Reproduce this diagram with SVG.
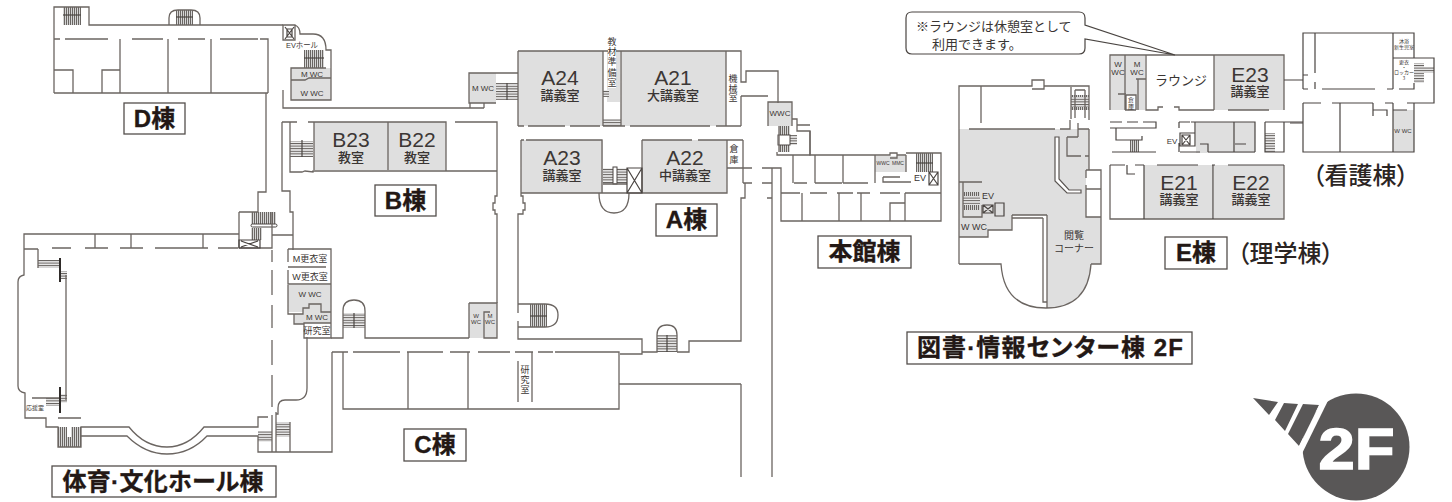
<svg xmlns="http://www.w3.org/2000/svg" width="1452" height="502" viewBox="0 0 1452 502">
<style>
.w{fill:none;stroke:#6b6561;stroke-width:1.3}
.t{fill:none;stroke:#4a4542;stroke-width:1.2}
.b{fill:none;stroke:#2f2b29;stroke-width:2}
.g{fill:#dfdfdf;stroke:none}
text{font-family:"Liberation Sans","Noto Sans CJK JP",sans-serif;fill:#3a3533;text-anchor:middle}
.rn{font-size:21px;fill:#3c3735}
.rk{font-size:13px;font-family:"Noto Sans CJK JP",sans-serif;font-weight:500}
.s9{font-size:9px}.s8{font-size:8px}.s6{font-size:6px}.s5{font-size:5px}
.j{font-family:"Noto Sans CJK JP",sans-serif}
.lb{fill:#fff;stroke:#544f4c;stroke-width:1.3}
.lt{font-family:"Liberation Sans","Noto Sans CJK JP",sans-serif;font-weight:700;fill:#231815;stroke:#231815;stroke-width:.35;font-size:24px;font-feature-settings:"palt"}
.lp{font-family:"Noto Sans CJK JP",sans-serif;font-weight:500;fill:#2b2523;font-size:24px;font-feature-settings:"palt"}
</style>
<defs>
<pattern id="sv" width="2" height="2" patternUnits="userSpaceOnUse"><rect width="2" height="2" fill="#d5d5d5"/><rect width="1" height="2" fill="#6a6663"/></pattern>
<pattern id="sh" width="2" height="2.6" patternUnits="userSpaceOnUse"><rect width="2" height="2.6" fill="#eee"/><rect width="2" height="1" fill="#5f5a57"/></pattern>
</defs>

<g id="building-d">
<rect class="g" x="291" y="68" width="40" height="32"/>
<rect x="63" y="7" width="18" height="18" fill="url(#sv)"/><path class="t" d="M63 15H81"/>
<rect x="176" y="10" width="17" height="15" fill="url(#sv)"/><path class="t" d="M176 17H193"/>
<rect x="304" y="50" width="20" height="18" fill="url(#sv)"/><path class="t" d="M304 58H324"/>
<path class="w" d="M54 93V7H89V25H169V18Q169 10 178 10H191Q200 10 200 18V25H283M89 25H283M54 93H268M54 39H60M65 39H108M132 39H163M178 39H205M220 39H258M260 39H268V93M120 39V93M168 39V93M211 39V93M54 70H73V93M102 93V70H120"/>
<path class="w" d="M295 25Q300 27 300 34H313Q326 34 326 50H331V100H291V68H326M291 80H305L309 78H331M283 90V108H470M295 25H283V40H295Z"/>
<path class="t" d="M285 27L294 39M294 27L285 39M287 29H292V37H287Z"/>
<text class="s8" x="302" y="48" textLength="32" lengthAdjust="spacingAndGlyphs">EVホール</text>
<text class="s8" x="312" y="77">M WC</text><text class="s8" x="312" y="96">W WC</text>
<path class="w" d="M266 93V192H258V212"/>
</g>

<g id="building-b">
<rect class="g" x="314" y="122" width="132" height="48"/>
<rect x="290" y="141" width="23" height="16" fill="url(#sh)"/>
<path class="t" d="M302 140V157"/>
<path class="w" d="M282 122H290M290 122H297M308 122H314V170M314 122H446V171M388 122V170M455 122H497V170M446 171H497M290 122V172H302L305 171L313 172V171H446M282 122V191H290V212H293V250M497 170V196H495V203H493V210H495V214H497V303"/>
<text class="rn" x="351" y="147">B23</text><text class="rk" x="351" y="162">教室</text>
<text class="rn" x="417" y="147">B22</text><text class="rk" x="417" y="162">教室</text>
</g>

<g id="building-a">
<rect class="g" x="469" y="73" width="27" height="30"/>
<rect class="g" x="518" y="51" width="85" height="75"/><rect class="g" x="621" y="51" width="105" height="75"/><rect class="g" x="607" y="51" width="13" height="51"/>
<rect class="g" x="521" y="140" width="82" height="53"/><rect class="g" x="642" y="140" width="85" height="53"/>
<rect class="g" x="768" y="102" width="24" height="24"/>
<rect x="496" y="83" width="22" height="17" fill="url(#sh)"/><path class="t" d="M507 83V100"/>
<rect x="603" y="90" width="6" height="7" fill="url(#sh)"/><rect x="603" y="119" width="18" height="7" fill="url(#sh)"/>
<rect x="603" y="168" width="24" height="16" fill="url(#sh)"/>
<rect x="613" y="167" width="4" height="17" fill="#fff" stroke="#4a4542"/>
<rect x="779" y="126" width="11" height="26" fill="url(#sv)"/><rect x="790" y="135" width="7" height="10" fill="url(#sh)"/>
<rect x="778" y="135" width="12" height="10" fill="#fff" stroke="#4a4542"/>
<path class="w" d="M496 103H469V73H518M470 108V103M484 108V103M470 108H484M518 51V126M518 126H524M528 126H565M570 126H600M603 51V126M621 51V126M726 51V126M603 126H621M621 126H625M630 126H710M716 126H741M518 51H741V82H746V71H778V103M741 96H768M741 96V126M768 126V102H792V126M792 119H797V131H810V155H777V152M779 126V152"/>
<path class="w" d="M521 140H524M526 140H602V193M521 140V196H523V203H525V210H523V214H518V304M642 140H692M698 140H727V193H521M642 140V193M727 168H752M762 168H781V193M743 140H727M743 140V183M743 183H752M762 183H772M772 168V198H767M772 198V477M745 183V198H741V341H689V352H677M741 384V477M599 193Q599 213 614 213Q629 213 629 193M603 184H627"/>
<path class="t" d="M627 168H642V193H627ZM627 168L642 193M642 168L627 193"/>
<text class="rn" x="560" y="85">A24</text><text class="rk" x="560" y="100">講義室</text>
<text class="rn" x="673" y="85">A21</text><text class="rk" x="673" y="100">大講義室</text>
<text class="rn" x="562" y="165">A23</text><text class="rk" x="562" y="180">講義室</text>
<text class="rn" x="685" y="165">A22</text><text class="rk" x="685" y="180">中講義室</text>
<rect x="608" y="38" width="8" height="50" fill="#fff"/>
<text class="s9 j"><tspan x="612" y="45">教</tspan><tspan x="612" y="55">材</tspan><tspan x="612" y="65">準</tspan><tspan x="612" y="76">備</tspan><tspan x="612" y="86">室</tspan></text>
<text class="s9 j"><tspan x="733" y="82">機</tspan><tspan x="733" y="92">械</tspan><tspan x="733" y="101">室</tspan></text>
<text class="s9 j"><tspan x="734" y="152">倉</tspan><tspan x="734" y="163">庫</tspan></text>
<text class="s8" x="483" y="91">M WC</text><text class="s8" x="780" y="116">WWC</text>
</g>

<g id="building-main">
<rect class="g" x="875" y="156" width="31" height="16"/>
<rect x="916" y="153" width="17" height="19" fill="url(#sv)"/><path class="t" d="M916 163H933"/>
<path class="w" d="M810 125H797M810 131V155H875M875 155H890V153H897V158H890M897 155H906M906 153H941V221H781V193M793 155V183M815 155V183M843 155V183M875 155V172M794 183H807M815 183H842M843 183H868M875 172V183M906 155V172M883 177V182H911M883 177H900M781 193H800M810 193H827M837 193H853M857 193H870M880 193H900M905 193H941M802 193V221M839 193V221M861 193V221M890 221V203H905M905 193V221"/>
<path class="t" d="M929 172H938V185H929ZM929 172L938 185M938 172L929 185"/>
<text class="s5" x="883" y="165">WWC</text><text class="s5" x="898" y="165">MMC</text>
<text class="s9" x="920" y="181">EV</text>
</g>

<g id="building-c">
<rect x="343" y="313" width="22" height="15" fill="url(#sh)"/><path class="t" d="M354 313V328"/>
<rect class="g" x="469" y="303" width="28" height="35"/>
<rect x="530" y="304" width="17" height="23" fill="url(#sv)"/><path class="t" d="M530 316H547"/>
<rect x="657" y="335" width="20" height="17" fill="url(#sh)"/><path class="t" d="M667 335V352"/>
<path class="w" d="M331 338H343V311Q343 300 354 300Q365 300 365 311V338H469M469 303V338M469 303H497V338H484V312H490M484 338V318M518 327V339H642V354H620M518 304H545Q558 304 558 315Q558 327 545 327H518M518 304V313M518 321V327M642 352H657V335Q657 325 667 325Q677 325 677 335V352"/>
<path class="w" d="M332 352H348M353 352H400M407 352H443M450 352H470M478 352H510M515 352H533M538 352H553M555 352H619V409H343V352M408 352V409M468 352V409M532 352V402M518 361V402M619 384H741"/>
<text class="s9 j"><tspan x="525" y="373">研</tspan><tspan x="525" y="383">究</tspan><tspan x="525" y="393">室</tspan></text>
<text class="s6"><tspan x="476" y="318">W</tspan><tspan x="476" y="324">WC</tspan><tspan x="490" y="318">M</tspan><tspan x="490" y="324">WC</tspan></text>
</g>

<g id="building-hall">
<rect class="g" x="288" y="285" width="43" height="27"/>
<path class="g" d="M303 314H294V324H304V323H331V312H303Z"/>
<rect x="251" y="212" width="25" height="14" fill="url(#sv)"/><rect x="251" y="228" width="11" height="12" fill="url(#sv)"/>
<rect x="251" y="224" width="26" height="3" rx="1.5" fill="#fff" stroke="#4a4542"/>
<rect x="38" y="260" width="22" height="8" fill="url(#sh)"/><rect x="60" y="271" width="7" height="8" fill="url(#sh)"/>
<rect x="60" y="394" width="7" height="9" fill="url(#sh)"/><rect x="46" y="398" width="14" height="8" fill="url(#sh)"/>
<rect x="58" y="427" width="9" height="20" fill="url(#sv)"/><rect x="71" y="427" width="10" height="20" fill="url(#sv)"/><rect x="65" y="437" width="8" height="10" fill="url(#sv)"/>
<rect x="258" y="431" width="14" height="11" fill="url(#sh)"/><rect x="276" y="422" width="14" height="15" fill="url(#sh)"/>
<path class="w" d="M239 234H24V275Q18 276 18 282V386Q18 392 25 393V418H46V427H58V447H81V427H129Q145 447 167 447Q188 447 204 427H258V417H268M81 436H127Q145 454 167 454Q190 454 207 436H258V452H332V352M272 415V452M276 412V452M290 422V452H276M258 417V418M58 418H81M58 427V447"/>
<path class="w" d="M38 249H24M38 249V268M32 398H60M66 275V400M52 248H71M85 248H108M120 248H143M155 248H187M187 248H208M218 248H238M239 248H272V235H293M95 234V248M131 234V248M203 234V248M239 212V248M239 212H258M272 212V235"/>
<path class="t" d="M239 240H260V248H239ZM241 241L258 247M258 241L241 247"/>
<path class="b" d="M60 258V282M60 387V413"/>
<path class="w" d="M288 249H331V338H304V323H331M288 249V262M288 267H326M288 270V284H331M288 285V314H303V308H309V304H321V312H331M294 314V324H304M307 337V388Q307 400 296 400H285Q278 400 278 408V414H276M272 250V262M272 270V295M272 305V328M272 340V365M272 375V407"/>
<text class="s9" x="310" y="262">M更衣室</text><text class="s9" x="310" y="280">W更衣室</text>
<text class="s8" x="310" y="297">W WC</text><text class="s8" x="317" y="320">M WC</text><text class="s9" x="317" y="334">研究室</text>
<text class="s6" x="35" y="410">応援室</text>
</g>

<g id="building-library">
<path class="g" d="M959 129H1089V170H1086V217H1101V264H1091Q1088 308 1047 308V215H1012V230H988V237H959Z"/>
<rect x="1071" y="95" width="18" height="15" fill="url(#sv)"/><rect x="1071" y="97" width="18" height="10" fill="url(#sh)"/>
<rect x="963" y="192" width="17" height="18" fill="url(#sv)"/><rect x="963" y="196" width="17" height="9" fill="url(#sh)"/>
<path d="M1055 137H1059V179L1069 190H1081V193H1067L1055 181Z" fill="#fff" stroke="#5a5552" stroke-width="1.2"/>
<path class="w" d="M959 264V86H1032V80H1044V89H1032M1044 86H1089V120M1089 129V170M981 86V123M969 129H1055M1060 129H1070V120M1071 87V119M1075 90V118M1085 90V118M1075 90H1085M1078 123V137M1078 129H1089M1067 137V156H1081M1067 137H1078M1085 156H1089M1086 170H1101V264H1091M1086 170V178M1086 185V217H1101M1086 189H1101M959 182H982M963 182V217H982V205M959 264H1001Q1004 308 1046 308Q1088 308 1091 264M1043 218V302H1047M1047 215V308M1012 215H1047M1012 218H1043M1012 215V230H988V237H959"/>
<path class="t" d="M983 205H993V213H983ZM983 205L993 213M993 205L983 213M995 203H1004V216H995Z"/>
<text class="s9" x="988" y="199">EV</text><text class="s9" x="974" y="230">W WC</text>
<text class="j" font-size="10" x="1074" y="239">閲覧</text><text class="j" font-size="10" x="1074" y="252">コーナー</text>
</g>

<g id="building-e">
<rect class="g" x="1111" y="56" width="34" height="54"/><rect class="g" x="1214" y="56" width="70" height="54"/>
<rect class="g" x="1144" y="165" width="69" height="54"/><rect class="g" x="1214" y="165" width="70" height="54"/>
<rect class="g" x="1196" y="122" width="59" height="31"/>
<rect x="1126" y="95" width="10" height="15" fill="#fff"/>
<rect x="1130" y="140" width="9" height="12" fill="url(#sv)"/><rect x="1265" y="133" width="10" height="19" fill="url(#sh)"/>
<path class="w" d="M1110 110V55H1284V110M1110 165V219H1284V165M1125 55V110M1146 55V110H1158V107H1163M1174 107H1179V110H1214M1214 55V110M1228 110H1269M1118 94H1126M1136 79H1146M1138 79V110M1125 110H1136M1126 95V110M1126 95H1136V110"/>
<path class="t" d="M1110 122H1122M1127 122H1138M1143 122H1156V128H1110M1116 128V140H1142V136M1112 152H1156M1179 122H1190M1179 122V128M1179 143V152M1180 133H1195V146H1180ZM1195 122V146M1191 122H1255V152M1234 122V152M1200 144H1208V152M1235 144H1246M1180 152H1200M1208 152H1255M1265 122V152H1284V122M1265 122H1303M1110 165H1125M1135 165H1144M1157 165H1198M1212 165H1215M1228 165H1284M1127 165V174H1135M1144 165V219M1213 165V219"/>
<path class="t" d="M1182 135H1190V145H1182ZM1182 135L1190 145M1190 135L1182 145"/>
<text class="s8" x="1172" y="144">EV</text>
<text class="s8"><tspan x="1118" y="67">W</tspan><tspan x="1118" y="75">WC</tspan><tspan x="1137" y="67">M</tspan><tspan x="1137" y="75">WC</tspan></text>
<text class="s6 j"><tspan x="1131" y="102">倉</tspan><tspan x="1131" y="109">庫</tspan></text>
<text class="j" font-size="13" x="1181" y="85">ラウンジ</text>
<text class="rn" x="1250" y="82">E23</text><text class="rk" x="1250" y="96">講義室</text>
<text class="rn" x="1179" y="190">E21</text><text class="rk" x="1179" y="204">講義室</text>
<text class="rn" x="1251" y="190">E22</text><text class="rk" x="1251" y="204">講義室</text>
</g>

<g id="building-nursing">
<rect class="g" x="1393" y="110" width="21" height="42"/>
<rect x="1414" y="63" width="10" height="20" fill="url(#sh)"/><rect x="1424" y="67" width="10" height="6" fill="url(#sh)"/>
<path class="t" d="M1303 89V33H1414V58H1434V103H1414M1303 75H1308M1303 89H1308M1322 89H1375M1387 89H1393M1399 89H1414V83M1315 33V73M1315 82V89M1393 33V89M1393 58H1414M1284 80H1303M1303 103H1321M1332 103H1373M1385 103H1393M1407 103H1414M1303 103V152H1414V103M1340 103V152M1393 103V152M1373 103V116M1373 110H1387V116M1393 110H1407M1290 123H1303"/>
<text class="s5 j"><tspan x="1404" y="43">沐浴</tspan><tspan x="1404" y="49">新生児室</tspan></text>
<text class="s5 j"><tspan x="1404" y="64">更衣</tspan><tspan x="1404" y="69">・</tspan><tspan x="1404" y="74">ロッカー</tspan><tspan x="1404" y="80">3</tspan></text>
<text class="s6" x="1403" y="133">W WC</text>
</g>

<g id="callout">
<path d="M912 12H1079Q1085 12 1085 18V25L1175 55L1085 39V48Q1085 54 1079 54H912Q906 54 906 48V18Q906 12 912 12Z" fill="#fff" stroke="#4a4542" stroke-width="1.2"/>
<text class="j" font-size="13" x="916" y="31" style="text-anchor:start">※ラウンジは休憩室として</text>
<text class="j" font-size="13" x="932" y="49" style="text-anchor:start">利用できます。</text>
</g>

<g id="labels">
<rect class="lb" x="124" y="103" width="61" height="31"/><text class="lt" x="154.500" y="127">D棟</text>
<rect class="lb" x="375" y="185" width="61" height="31"/><text class="lt" x="405.500" y="209">B棟</text>
<rect class="lb" x="656" y="204" width="61" height="32"/><text class="lt" x="686.500" y="228">A棟</text>
<rect class="lb" x="818" y="236" width="93" height="32"/><text class="lt" x="864.500" y="260">本館棟</text>
<rect class="lb" x="404" y="429" width="62" height="32"/><text class="lt" x="435" y="453">C棟</text>
<rect class="lb" x="52" y="466" width="224" height="31"/><text class="lt" x="163" y="490" textLength="201">体育·文化ホール棟</text>
<rect class="lb" x="907" y="332" width="285" height="32"/><text class="lt" x="1050" y="356" textLength="266">図書·情報センター棟 2F</text>
<rect class="lb" x="1165" y="237" width="62" height="32"/><text class="lt" x="1196" y="261">E棟</text>
<text class="lp" x="1285.500" y="262">（理学棟）</text>
<text class="lp" x="1360.500" y="184">（看護棟）</text>
</g>

<g id="floor-badge">
<circle cx="1356" cy="447" r="53.500" fill="#595757"/>
<path d="M1253 398L1278 402L1269 415Z M1284 403L1298 404L1285 431L1275 420Z M1303 404L1319 405L1299 446L1288 434Z" fill="#595757"/>
<path d="M1326 398L1298 455" stroke="#fff" stroke-width="6" fill="none"/>
<text x="1356.500" y="469" font-size="58" font-weight="700" style="fill:#fff;stroke:#fff;stroke-width:1.5" textLength="76" lengthAdjust="spacingAndGlyphs">2F</text>
</g>
</svg>
